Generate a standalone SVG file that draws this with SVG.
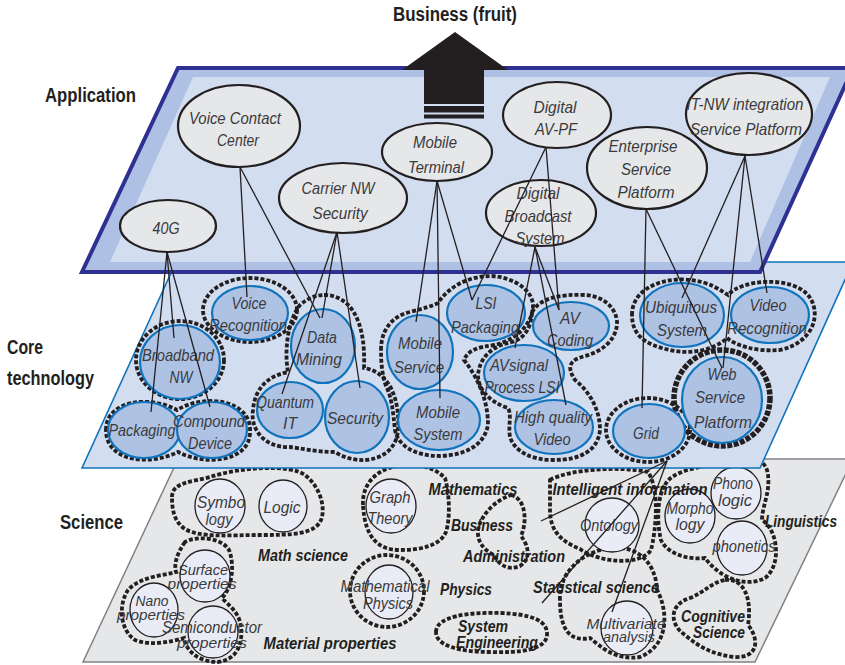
<svg xmlns="http://www.w3.org/2000/svg" width="845" height="665" viewBox="0 0 845 665">
<style>
text{font-family:"Liberation Sans",Arial,sans-serif;text-anchor:middle}
.lay{font-size:19.5px;font-weight:bold;fill:#231f20;text-anchor:start}
.an{font-size:17px;font-style:italic;fill:#3a3a3c}
.cn{font-size:17px;font-style:italic;fill:#3a3a3c}
.sn{font-size:16px;font-style:italic;fill:#3a3a3c}
.sm{font-size:14.5px}
.sl{font-size:16.5px;font-style:italic;font-weight:bold;fill:#231f20}
.app{fill:#e6e7e9;stroke:#231f20;stroke-width:2.2}
.core{fill:#aec2e4;stroke:#1173bc;stroke-width:2.2}
.sci{fill:#e9ecf7;stroke:#231f20;stroke-width:1.3}
.dash{fill:none;stroke:#231f20;stroke-width:3.8;stroke-dasharray:4 2}
.conn line{stroke:#231f20;stroke-width:1.3}
</style>

<!-- Science layer -->
<g id="layer-science">
<polygon points="178,459 853,459 755,662 83,662" fill="#e6e7e8" stroke="#808285" stroke-width="1.5"/>
<path class="dash" d="M172 497 C172 482,192 482,210 477 C240 467,290 464,305 475 C318 485,325 503,322 517 C318 535,290 535,260 535 C230 535,200 538,185 529 C173 521,172 507,172 497 Z"/>
<path class="dash" d="M185 542 C176 555,174 565,176 572 C160 576,140 577,128 590 C118 605,120 630,135 640 C150 646,170 642,184 638 C186 652,200 662,218 662 C236 660,243 645,241 628 C240 612,228 605,222 598 C232 588,235 565,229 550 C222 538,198 535,185 542 Z"/>
<path class="dash" d="M363 505 C362 485,375 470,397 466 C415 464,432 465,445 478 C450 495,450 520,446 532 C440 546,420 550,400 550 C380 550,365 540,363 505 Z"/>
<ellipse class="dash" cx="387" cy="591" rx="37" ry="36"/>
<path class="dash" d="M511 495 C525 498,528 520,521 536 C528 545,532 558,520 566 C508 571,499 565,494 555 C484 550,477 542,478 530 C481 514,496 500,511 495 Z"/>
<path class="dash" d="M436 632 C436 616,470 612,500 613 C530 614,548 620,547 635 C546 650,520 653,490 652 C460 652,436 646,436 632 Z"/>
<path class="dash" d="M550 480 C570 469,620 466,648 472 C660 490,656 530,651 550 C640 566,600 563,580 549 C560 541,550 530,550 510 Z"/>
<path class="dash" d="M560 600 C558 575,580 552,610 548 C640 545,656 565,657 590 C668 610,670 645,640 657 C615 661,600 646,590 638 C570 642,560 630,560 600 Z"/>
<path class="dash" d="M665 485 C672 470,700 468,712 464 C725 452,760 450,767 470 C772 490,762 505,762 520 C778 530,782 565,765 578 C745 588,720 578,705 558 C690 560,668 555,661 540 C656 520,658 495,665 485 Z"/>
<path class="dash" d="M725 580 C745 578,752 600,748 625 C760 640,758 658,735 657 C715 655,700 648,685 635 C670 625,668 605,690 598 C705 592,712 582,725 580 Z"/>
</g>
<g id="node-symbology"><ellipse class="sci" cx="220" cy="506" rx="25" ry="27"/><text class="sn" x="221" y="508" textLength="48" lengthAdjust="spacingAndGlyphs">Symbo</text><text class="sn" x="219" y="525" textLength="27" lengthAdjust="spacingAndGlyphs">logy</text></g>
<g id="node-logic"><ellipse class="sci" cx="283" cy="506" rx="24" ry="26"/><text class="sn" x="282" y="513" textLength="37" lengthAdjust="spacingAndGlyphs">Logic</text></g>
<g id="node-graph-theory"><ellipse class="sci" cx="391" cy="506" rx="25" ry="27"/><text class="sn" x="390" y="503" textLength="41" lengthAdjust="spacingAndGlyphs">Graph</text><text class="sn" x="390" y="524" textLength="45" lengthAdjust="spacingAndGlyphs">Theory</text></g>
<g id="node-math-physics"><ellipse class="sci" cx="389" cy="592" rx="24" ry="27"/><text class="sn" x="385" y="592" textLength="89" lengthAdjust="spacingAndGlyphs">Mathematical</text><text class="sn" x="388" y="609" textLength="50" lengthAdjust="spacingAndGlyphs">Physics</text></g>
<g id="node-surface"><ellipse class="sci" cx="205" cy="576" rx="25" ry="26"/><text class="sn sm" x="203" y="575" textLength="50" lengthAdjust="spacingAndGlyphs">Surface</text><text class="sn sm" x="202" y="589" textLength="69" lengthAdjust="spacingAndGlyphs">properties</text></g>
<g id="node-nano"><ellipse class="sci" cx="154" cy="610" rx="24" ry="27"/><text class="sn sm" x="152" y="606" textLength="33" lengthAdjust="spacingAndGlyphs">Nano</text><text class="sn sm" x="151" y="620" textLength="68" lengthAdjust="spacingAndGlyphs">properties</text></g>
<g id="node-semiconductor"><ellipse class="sci" cx="213" cy="632" rx="25" ry="26"/><text class="sn" x="212" y="633" textLength="100" lengthAdjust="spacingAndGlyphs">Semiconductor</text><text class="sn sm" x="212" y="648" textLength="70" lengthAdjust="spacingAndGlyphs">properties</text></g>
<g id="node-ontology"><ellipse class="sci" cx="612" cy="525" rx="27" ry="27"/><text class="sn" x="609" y="531" textLength="58" lengthAdjust="spacingAndGlyphs">Ontology</text></g>
<g id="node-morphology"><ellipse class="sci" cx="690" cy="516" rx="25" ry="27"/><text class="sn" x="690" y="514" textLength="47" lengthAdjust="spacingAndGlyphs">Morpho</text><text class="sn" x="690" y="530" textLength="29" lengthAdjust="spacingAndGlyphs">logy</text></g>
<g id="node-phonologic"><ellipse class="sci" cx="736" cy="493" rx="25" ry="26"/><text class="sn" x="733" y="489" textLength="40" lengthAdjust="spacingAndGlyphs">Phono</text><text class="sn" x="735" y="506" textLength="34" lengthAdjust="spacingAndGlyphs">logic</text></g>
<g id="node-phonetics"><ellipse class="sci" cx="742" cy="548" rx="25" ry="27"/><text class="sn" x="744" y="552" textLength="63" lengthAdjust="spacingAndGlyphs">phonetics</text></g>
<g id="node-multivariate"><ellipse class="sci" cx="627" cy="628" rx="26" ry="27"/><text class="sn sm" x="626" y="629" textLength="79" lengthAdjust="spacingAndGlyphs">Multivariate</text><text class="sn sm" x="629" y="642" textLength="52" lengthAdjust="spacingAndGlyphs">analysis</text></g>
<g id="science-labels">
<text class="sl" x="473" y="495" textLength="89" lengthAdjust="spacingAndGlyphs">Mathematics</text>
<text class="sl" x="482" y="531" textLength="62" lengthAdjust="spacingAndGlyphs">Business</text>
<text class="sl" x="514" y="562" textLength="102" lengthAdjust="spacingAndGlyphs">Administration</text>
<text class="sl" x="466" y="595" textLength="52" lengthAdjust="spacingAndGlyphs">Physics</text>
<text class="sl" x="483" y="632" textLength="50" lengthAdjust="spacingAndGlyphs">System</text>
<text class="sl" x="497" y="648" textLength="82" lengthAdjust="spacingAndGlyphs">Engineering</text>
<text class="sl" x="303" y="561" textLength="90" lengthAdjust="spacingAndGlyphs">Math science</text>
<text class="sl" x="330" y="649" textLength="133" lengthAdjust="spacingAndGlyphs">Material properties</text>
<text class="sl" x="630" y="495" textLength="155" lengthAdjust="spacingAndGlyphs">Intelligent information</text>
<text class="sl" x="596" y="593" textLength="126" lengthAdjust="spacingAndGlyphs">Statistical science</text>
<text class="sl" x="801" y="527" textLength="72" lengthAdjust="spacingAndGlyphs">Linguistics</text>
<text class="sl" x="713" y="622" textLength="64" lengthAdjust="spacingAndGlyphs">Cognitive</text>
<text class="sl" x="719" y="638" textLength="52" lengthAdjust="spacingAndGlyphs">Science</text>
</g>

<!-- Core technology layer -->
<g id="layer-core">
<polygon points="176,262 853,262 760,468 82,468" fill="#d2ddf0" stroke="#1173bc" stroke-width="1.6"/>
<ellipse class="dash" cx="250" cy="310" rx="47" ry="32"/>
<ellipse class="dash" cx="180" cy="360" rx="44" ry="39"/>
<path class="dash" d="M106 430 C106 400,150 395,177 410 C205 393,252 400,250 432 C250 462,205 466,178 452 C150 466,106 462,106 430 Z"/>
<path class="dash" d="M324 295 C350 295,366 320,364 368 C390 372,400 400,398 430 C396 460,360 468,335 452 C315 452,300 448,290 447 C265 448,250 430,253 410 C255 385,272 375,288 372 C284 350,288 320,300 305 C308 298,316 295,324 295 Z"/>
<path class="dash" d="M381 350 C381 330,392 316,410 312 C425 308,432 306,438 303 C450 285,470 276,492 276 C515 278,532 290,533 305 C533 325,515 340,495 345 C478 347,468 350,464 360 C478 378,488 400,488 425 C484 446,465 455,440 456 C415 456,398 446,395 430 C393 412,392 398,386 386 C382 375,381 362,381 350 Z"/>
<path class="dash" d="M532 312 C540 298,560 294,585 295 C605 296,618 310,617 325 C615 342,600 352,585 356 C570 360,566 366,575 380 C590 392,600 410,600 430 C598 450,582 460,553 460 C532 460,515 452,510 437 C508 425,512 415,508 408 C490 402,478 390,478 375 C480 355,495 345,512 342 C525 338,531 328,532 312 Z"/>
<path class="dash" d="M632 315 C632 285,670 277,690 280 C710 282,720 290,728 295 C740 280,790 275,808 295 C822 312,815 342,780 350 C755 352,735 345,727 338 C715 350,690 355,670 350 C645 345,632 335,632 315 Z"/>
<ellipse class="dash" cx="722" cy="398" rx="48" ry="48" style="stroke-width:5.5;stroke-dasharray:5 1.5"/>
<ellipse class="dash" cx="648" cy="430" rx="42" ry="32"/>
</g>
<g id="node-voice-recognition"><ellipse class="core" cx="250" cy="313" rx="38" ry="27"/><text class="cn" x="249" y="309" textLength="35" lengthAdjust="spacingAndGlyphs">Voice</text><text class="cn" x="248" y="331" textLength="78" lengthAdjust="spacingAndGlyphs">Recognition</text></g>
<g id="node-broadband-nw"><ellipse class="core" cx="180" cy="362" rx="40" ry="37"/><text class="cn" x="178" y="361" textLength="72" lengthAdjust="spacingAndGlyphs">Broadband</text><text class="cn" x="181" y="383" textLength="23" lengthAdjust="spacingAndGlyphs">NW</text></g>
<g id="node-data-mining"><ellipse class="core" cx="323" cy="346" rx="32" ry="37"/><text class="cn" x="322" y="343" textLength="30" lengthAdjust="spacingAndGlyphs">Data</text><text class="cn" x="319" y="365" textLength="46" lengthAdjust="spacingAndGlyphs">Mining</text></g>
<g id="node-quantum-it"><ellipse class="core" cx="290" cy="410" rx="33" ry="28"/><text class="cn" x="285" y="408" textLength="58" lengthAdjust="spacingAndGlyphs">Quantum</text><text class="cn" x="290" y="429" textLength="14" lengthAdjust="spacingAndGlyphs">IT</text></g>
<g id="node-security"><ellipse class="core" cx="357" cy="417" rx="32" ry="36"/><text class="cn" x="355" y="424" textLength="56" lengthAdjust="spacingAndGlyphs">Security</text></g>
<g id="node-packaging"><ellipse class="core" cx="144" cy="430" rx="36" ry="28"/><text class="cn" x="142" y="436" textLength="67" lengthAdjust="spacingAndGlyphs">Packaging</text></g>
<g id="node-compound-device"><ellipse class="core" cx="212" cy="430" rx="35" ry="28"/><text class="cn" x="209" y="427" textLength="72" lengthAdjust="spacingAndGlyphs">Compound</text><text class="cn" x="210" y="449" textLength="44" lengthAdjust="spacingAndGlyphs">Device</text></g>
<g id="node-mobile-service"><ellipse class="core" cx="420" cy="352" rx="33" ry="37"/><text class="cn" x="420" y="349" textLength="44" lengthAdjust="spacingAndGlyphs">Mobile</text><text class="cn" x="419" y="373" textLength="50" lengthAdjust="spacingAndGlyphs">Service</text></g>
<g id="node-mobile-system"><ellipse class="core" cx="439" cy="420" rx="41" ry="30"/><text class="cn" x="438" y="418" textLength="44" lengthAdjust="spacingAndGlyphs">Mobile</text><text class="cn" x="438" y="440" textLength="49" lengthAdjust="spacingAndGlyphs">System</text></g>
<g id="node-lsi-packaging"><ellipse class="core" cx="486" cy="313" rx="39" ry="28"/><text class="cn" x="486" y="309" textLength="21" lengthAdjust="spacingAndGlyphs">LSI</text><text class="cn" x="485" y="333" textLength="68" lengthAdjust="spacingAndGlyphs">Packaging</text></g>
<g id="node-av-coding"><ellipse class="core" cx="571" cy="326" rx="38" ry="24"/><text class="cn" x="570" y="324" textLength="20" lengthAdjust="spacingAndGlyphs">AV</text><text class="cn" x="570" y="346" textLength="46" lengthAdjust="spacingAndGlyphs">Coding</text></g>
<g id="node-avsignal"><ellipse class="core" cx="524" cy="373" rx="40" ry="28"/><text class="cn" x="519" y="371" textLength="58" lengthAdjust="spacingAndGlyphs">AVsignal</text><text class="cn" x="522" y="393" textLength="75" lengthAdjust="spacingAndGlyphs">Process LSI</text></g>
<g id="node-hq-video"><ellipse class="core" cx="554" cy="427" rx="39" ry="27"/><text class="cn" x="553" y="423" textLength="78" lengthAdjust="spacingAndGlyphs">High quality</text><text class="cn" x="552" y="445" textLength="37" lengthAdjust="spacingAndGlyphs">Video</text></g>
<g id="node-ubiquitous"><ellipse class="core" cx="682" cy="315" rx="42" ry="32"/><text class="cn" x="681" y="313" textLength="72" lengthAdjust="spacingAndGlyphs">Ubiquitous</text><text class="cn" x="682" y="336" textLength="50" lengthAdjust="spacingAndGlyphs">System</text></g>
<g id="node-video-recognition"><ellipse class="core" cx="770" cy="315" rx="39" ry="28"/><text class="cn" x="768" y="311" textLength="37" lengthAdjust="spacingAndGlyphs">Video</text><text class="cn" x="767" y="334" textLength="80" lengthAdjust="spacingAndGlyphs">Recognition</text></g>
<g id="node-web-service"><ellipse class="core" cx="722" cy="400" rx="40" ry="43"/><text class="cn" x="722" y="380" textLength="29" lengthAdjust="spacingAndGlyphs">Web</text><text class="cn" x="720" y="403" textLength="50" lengthAdjust="spacingAndGlyphs">Service</text><text class="cn" x="723" y="428" textLength="58" lengthAdjust="spacingAndGlyphs">Platform</text></g>
<g id="node-grid"><ellipse class="core" cx="649" cy="431" rx="36" ry="27"/><text class="cn" x="646" y="439" textLength="26" lengthAdjust="spacingAndGlyphs">Grid</text></g>

<!-- Application layer -->
<g id="layer-application">
<polygon points="178,68 853,68 760,272 82,272" fill="#aec0e3" stroke="#2e3192" stroke-width="4"/>
<polygon points="193,77 830,77 750,262 110,262" fill="#d2ddf0"/>
</g>
<g id="node-voice-contact-center"><ellipse class="app" cx="239" cy="126" rx="61" ry="41"/><text class="an" x="235" y="124" textLength="92" lengthAdjust="spacingAndGlyphs">Voice Contact</text><text class="an" x="238" y="146" textLength="42" lengthAdjust="spacingAndGlyphs">Center</text></g>
<g id="node-40g"><ellipse class="app" cx="168" cy="226" rx="48" ry="26"/><text class="an" x="166" y="234" textLength="27" lengthAdjust="spacingAndGlyphs">40G</text></g>
<g id="node-carrier-nw-security"><ellipse class="app" cx="343" cy="198" rx="64" ry="35"/><text class="an" x="338" y="194" textLength="73" lengthAdjust="spacingAndGlyphs">Carrier NW</text><text class="an" x="340" y="219" textLength="55" lengthAdjust="spacingAndGlyphs">Security</text></g>
<g id="node-mobile-terminal"><ellipse class="app" cx="437" cy="152" rx="55" ry="29"/><text class="an" x="435" y="148" textLength="44" lengthAdjust="spacingAndGlyphs">Mobile</text><text class="an" x="436" y="173" textLength="56" lengthAdjust="spacingAndGlyphs">Terminal</text></g>
<g id="node-digital-av-pf"><ellipse class="app" cx="557" cy="115" rx="54" ry="33"/><text class="an" x="555" y="113" textLength="43" lengthAdjust="spacingAndGlyphs">Digital</text><text class="an" x="556" y="135" textLength="42" lengthAdjust="spacingAndGlyphs">AV-PF</text></g>
<g id="node-digital-broadcast"><ellipse class="app" cx="541" cy="213" rx="55" ry="33"/><text class="an" x="538" y="199" textLength="43" lengthAdjust="spacingAndGlyphs">Digital</text><text class="an" x="538" y="222" textLength="67" lengthAdjust="spacingAndGlyphs">Broadcast</text><text class="an" x="540" y="244" textLength="49" lengthAdjust="spacingAndGlyphs">System</text></g>
<g id="node-enterprise-sp"><ellipse class="app" cx="647" cy="168" rx="60" ry="41"/><text class="an" x="643" y="152" textLength="69" lengthAdjust="spacingAndGlyphs">Enterprise</text><text class="an" x="646" y="175" textLength="50" lengthAdjust="spacingAndGlyphs">Service</text><text class="an" x="646" y="198" textLength="57" lengthAdjust="spacingAndGlyphs">Platform</text></g>
<g id="node-itnw-sp"><ellipse class="app" cx="749" cy="114" rx="63" ry="41"/><text class="an" x="745" y="110" textLength="117" lengthAdjust="spacingAndGlyphs">IT-NW integration</text><text class="an" x="746" y="135" textLength="112" lengthAdjust="spacingAndGlyphs">Service Platform</text></g>

<!-- Business arrow -->
<g id="business-arrow" fill="#231f20">
<polygon points="455,32 508,70 484,70 484,104 424,104 424,70 402,70"/>
<rect x="424" y="106" width="60" height="6.5"/>
<rect x="424" y="114.5" width="60" height="4"/>
</g>

<!-- Layer labels -->
<g id="labels">
<text class="lay" x="393" y="21" textLength="124" lengthAdjust="spacingAndGlyphs">Business (fruit)</text>
<text class="lay" x="45" y="102" textLength="91" lengthAdjust="spacingAndGlyphs">Application</text>
<text class="lay" x="7" y="354" textLength="36" lengthAdjust="spacingAndGlyphs">Core</text>
<text class="lay" x="7" y="385" textLength="87" lengthAdjust="spacingAndGlyphs">technology</text>
<text class="lay" x="60" y="529" textLength="63" lengthAdjust="spacingAndGlyphs">Science</text>
</g>

<!-- Connectors -->
<g id="connectors" class="conn">
<line x1="167" y1="252" x2="151" y2="412"/>
<line x1="167" y1="252" x2="174" y2="338"/>
<line x1="167" y1="252" x2="210" y2="407"/>
<line x1="240" y1="167" x2="247" y2="297"/>
<line x1="240" y1="167" x2="320" y2="318"/>
<line x1="337" y1="232" x2="282" y2="394"/>
<line x1="337" y1="232" x2="322" y2="318"/>
<line x1="337" y1="232" x2="360" y2="388"/>
<line x1="437" y1="181" x2="416" y2="322"/>
<line x1="437" y1="181" x2="440" y2="398"/>
<line x1="437" y1="181" x2="472" y2="300"/>
<line x1="546" y1="147" x2="472" y2="300"/>
<line x1="546" y1="147" x2="559" y2="310"/>
<line x1="535" y1="247" x2="515" y2="348"/>
<line x1="535" y1="247" x2="566" y2="405"/>
<line x1="535" y1="247" x2="559" y2="310"/>
<line x1="646" y1="209" x2="642" y2="408"/>
<line x1="646" y1="209" x2="722" y2="368"/>
<line x1="745" y1="156" x2="682" y2="298"/>
<line x1="745" y1="156" x2="723" y2="368"/>
<line x1="745" y1="156" x2="767" y2="293"/>
<line x1="667" y1="461" x2="541" y2="521"/>
<line x1="667" y1="461" x2="542" y2="603"/>
<line x1="667" y1="461" x2="612" y2="612"/>
</g>
</svg>
